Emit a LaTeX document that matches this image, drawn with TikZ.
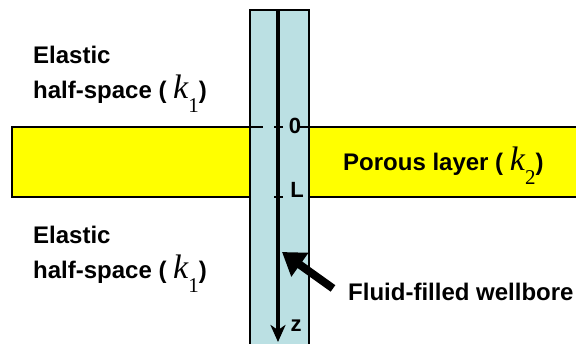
\documentclass[tikz,border=0pt]{standalone}
\usepackage{fontspec}
\setmainfont{Liberation Sans}
\newfontfamily\tnr{Liberation Serif}
\usetikzlibrary{arrows.meta}
\definecolor{boreblue}{RGB}{187,224,227}
\definecolor{layeryellow}{RGB}{255,255,0}
\newcommand{\kay}[1]{{\tnr\mdseries\fontsize{34}{34}\selectfont\itshape k}\raisebox{-14pt}{\tnr\mdseries\fontsize{21}{21}\selectfont #1}}
\begin{document}
\begin{tikzpicture}[x=1pt, y=-1pt,
    lbl/.style={font=\fontsize{24}{28}\selectfont\bfseries, inner sep=0pt, anchor=base west},
    ticklbl/.style={font=\fontsize{22}{22}\selectfont\bfseries, inner sep=0pt}]
    \useasboundingbox (0,0) rectangle (576,343);

    % porous layer
    \fill[layeryellow] (12,127) rectangle (580,197);
    \draw[line width=2pt] (580,127) -- (12,127) -- (12,197) -- (580,197);

    % wellbore
    \draw[fill=boreblue, line width=1.3pt] (250,350) -- (250,10) -- (309,10) -- (309,350);

    % depth axis
    \coordinate (ztop) at (278,10);
    \coordinate (zbot) at (278,342);
    \draw[line width=4.5pt, -{Stealth[length=17pt,width=15pt,inset=5pt]}] (ztop) -- (zbot);
    \draw[line width=2pt] (250,127) -- (263,127);
    \draw[line width=2.5pt] (274,127) -- (283,127);
    \draw[line width=2pt] (300,127) -- (309,127);
    \draw[line width=2.5pt] (274,197) -- (283,197);
    \node (zero) [ticklbl] at (295,126) {0};
    \node (ell) [ticklbl] at (297,190) {L};
    \node (zed) [ticklbl] at (296,326) {z};

    % labels
    \node (elastic1) [lbl] at (33,63) {Elastic};
    \node (half1) [lbl] at (33,98) {half-space ( \kay{1})};
    \node (elastic2) [lbl] at (33,243) {Elastic};
    \node (half2) [lbl] at (33,278) {half-space ( \kay{1})};
    \node (porous) [lbl] at (343,170) {Porous layer ( \kay{2})};
    \node (fluid) [lbl] at (348,300) {Fluid-filled wellbore};

    % pointer to the wellbore
    \coordinate (hit) at (282,252);
    \draw[line width=8pt, -{Triangle[length=22pt,width=28pt]}] ([xshift=-15pt,yshift=3pt]fluid.west) -- (hit);
\end{tikzpicture}
\end{document}
